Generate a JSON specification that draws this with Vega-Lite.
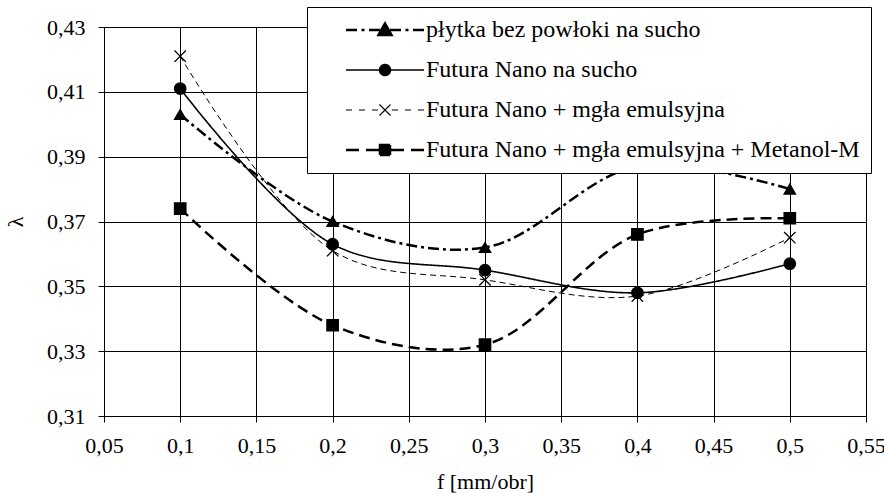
{
  "$schema": "https://vega.github.io/schema/vega-lite/v6.json",
  "width": 762,
  "height": 389,
  "autosize": {"type": "none"},
  "padding": {"left": 104, "top": 27, "right": 18, "bottom": 77},
  "background": "white",
  "config": {
    "view": {"stroke": "black", "strokeWidth": 1},
    "font": "Liberation Serif",
    "axis": {
      "labelFont": "Liberation Serif",
      "labelFontSize": 22,
      "labelColor": "black",
      "titleFont": "Liberation Serif",
      "titleFontSize": 22,
      "titleFontWeight": "normal",
      "titleColor": "black",
      "domainColor": "black",
      "domainWidth": 1,
      "tickColor": "black",
      "tickSize": 6,
      "tickWidth": 1,
      "gridColor": "black",
      "gridWidth": 1,
      "gridOpacity": 1,
      "labelPadding": 13
    }
  },
  "data": {
    "values": [
      {"series": "płytka bez powłoki na sucho", "f": 0.1, "lambda": 0.403},
      {"series": "płytka bez powłoki na sucho", "f": 0.2, "lambda": 0.370},
      {"series": "płytka bez powłoki na sucho", "f": 0.3, "lambda": 0.362},
      {"series": "płytka bez powłoki na sucho", "f": 0.4, "lambda": 0.387},
      {"series": "płytka bez powłoki na sucho", "f": 0.5, "lambda": 0.380},
      {"series": "Futura Nano na sucho", "f": 0.1, "lambda": 0.411},
      {"series": "Futura Nano na sucho", "f": 0.2, "lambda": 0.363},
      {"series": "Futura Nano na sucho", "f": 0.3, "lambda": 0.355},
      {"series": "Futura Nano na sucho", "f": 0.4, "lambda": 0.348},
      {"series": "Futura Nano na sucho", "f": 0.5, "lambda": 0.357},
      {"series": "Futura Nano + mgła emulsyjna", "f": 0.1, "lambda": 0.421},
      {"series": "Futura Nano + mgła emulsyjna", "f": 0.2, "lambda": 0.361},
      {"series": "Futura Nano + mgła emulsyjna", "f": 0.3, "lambda": 0.352},
      {"series": "Futura Nano + mgła emulsyjna", "f": 0.4, "lambda": 0.347},
      {"series": "Futura Nano + mgła emulsyjna", "f": 0.5, "lambda": 0.365},
      {"series": "Futura Nano + mgła emulsyjna + Metanol-M", "f": 0.1, "lambda": 0.374},
      {"series": "Futura Nano + mgła emulsyjna + Metanol-M", "f": 0.2, "lambda": 0.338},
      {"series": "Futura Nano + mgła emulsyjna + Metanol-M", "f": 0.3, "lambda": 0.332},
      {"series": "Futura Nano + mgła emulsyjna + Metanol-M", "f": 0.4, "lambda": 0.366},
      {"series": "Futura Nano + mgła emulsyjna + Metanol-M", "f": 0.5, "lambda": 0.371}
    ]
  },
  "encoding": {
    "x": {
      "field": "f",
      "type": "quantitative",
      "scale": {"domain": [0.05, 0.55], "nice": false, "zero": false},
      "axis": {
        "values": [0.05, 0.1, 0.15, 0.2, 0.25, 0.3, 0.35, 0.4, 0.45, 0.5, 0.55],
        "labelExpr": "replace(format(datum.value, '.2~f'), '.', ',')",
        "title": "f [mm/obr]",
        "titleBaseline": "alphabetic",
        "titleY": 72,
        "labelFlush": false,
        "labelOverlap": false
      }
    },
    "y": {
      "field": "lambda",
      "type": "quantitative",
      "scale": {"domain": [0.31, 0.43], "nice": false, "zero": false},
      "axis": {
        "values": [0.31, 0.33, 0.35, 0.37, 0.39, 0.41, 0.43],
        "labelExpr": "replace(format(datum.value, '.2f'), '.', ',')",
        "title": "λ",
        "titleAngle": 270,
        "titleX": -89,
        "titleBaseline": "middle",
        "labelFlush": false,
        "labelOverlap": false
      }
    }
  },
  "layer": [
    {
      "mark": {"type": "line", "interpolate": "catmull-rom"},
      "encoding": {
        "color": {
          "field": "series",
          "type": "nominal",
          "scale": {
            "domain": ["płytka bez powłoki na sucho", "Futura Nano na sucho", "Futura Nano + mgła emulsyjna", "Futura Nano + mgła emulsyjna + Metanol-M"],
            "range": ["black", "black", "black", "black"]
          },
          "legend": {
            "title": null,
            "orient": "none",
            "legendX": 203,
            "legendY": -20,
            "zindex": 1,
            "padding": 11,
            "fillColor": "white",
            "strokeColor": "black",
            "labelFont": "Liberation Serif",
            "labelFontSize": 24,
            "labelColor": "black",
            "labelLimit": 1000,
            "symbolSize": 400,
            "symbolOffset": 55,
            "labelOffset": 29,
            "rowPadding": 16,
            "symbolFillColor": "black",
            "symbolStrokeColor": "black",
            "encode": {
              "symbols": {
                "update": {
                  "shape": {"signal": "datum.value === 'płytka bez powłoki na sucho' ? 'M-3.9,0H-2.8M-2.35,0H-2.05M-1.6,0H-0.5M0.5,0H1.6M2.05,0H2.35M2.8,0H3.9M0,-0.65L0.65,0.5L-0.65,0.5Z' : datum.value === 'Futura Nano na sucho' ? 'M-3.9,0H3.9M0.55,0A0.55,0.55,0,1,1,-0.55,0A0.55,0.55,0,1,1,0.55,0Z' : datum.value === 'Futura Nano + mgła emulsyjna' ? 'M-3.9,0H-3.3M-2.6,0H-2.0M-1.3,0H-0.7M0.7,0H1.3M2.0,0H2.6M3.3,0H3.9M-0.55,-0.55L0.55,0.55M-0.55,0.55L0.55,-0.55' : 'M-3.9,0H-2.6M-1.9,0H-0.5M0.5,0H1.9M2.6,0H3.9M-0.5,-0.5H0.5V0.5H-0.5Z'"},
                  "strokeWidth": {"signal": "datum.value === 'płytka bez powłoki na sucho' ? 2.5 : datum.value === 'Futura Nano na sucho' ? 1.5 : datum.value === 'Futura Nano + mgła emulsyjna' ? 1.2 : 2.5"},
                  "fill": {"value": "black"},
                  "strokeDash": {"value": [1, 0]},
                  "opacity": {"value": 1}
                }
              }
            }
          }
        },
        "strokeDash": {
          "condition": [
            {"test": "datum.series === 'płytka bez powłoki na sucho'", "value": [11, 4, 3, 4]},
            {"test": "datum.series === 'Futura Nano na sucho'", "value": [1, 0]},
            {"test": "datum.series === 'Futura Nano + mgła emulsyjna'", "value": [6, 4]}
          ],
          "value": [11, 6]
        },
        "strokeWidth": {
          "condition": [
            {"test": "datum.series === 'Futura Nano na sucho'", "value": 1.6},
            {"test": "datum.series === 'Futura Nano + mgła emulsyjna'", "value": 1}
          ],
          "value": 2.5
        }
      }
    },
    {
      "mark": {"type": "point", "filled": true, "fill": "black", "stroke": "black", "strokeWidth": 1.3, "opacity": 1, "size": 130},
      "encoding": {
        "shape": {
          "condition": [
            {"test": "datum.series === 'płytka bez powłoki na sucho'", "value": "triangle-up"},
            {"test": "datum.series === 'Futura Nano na sucho'", "value": "circle"},
            {"test": "datum.series === 'Futura Nano + mgła emulsyjna'", "value": "M-1,-1L1,1M-1,1L1,-1"}
          ],
          "value": "square"
        }
      }
    }
  ]
}
